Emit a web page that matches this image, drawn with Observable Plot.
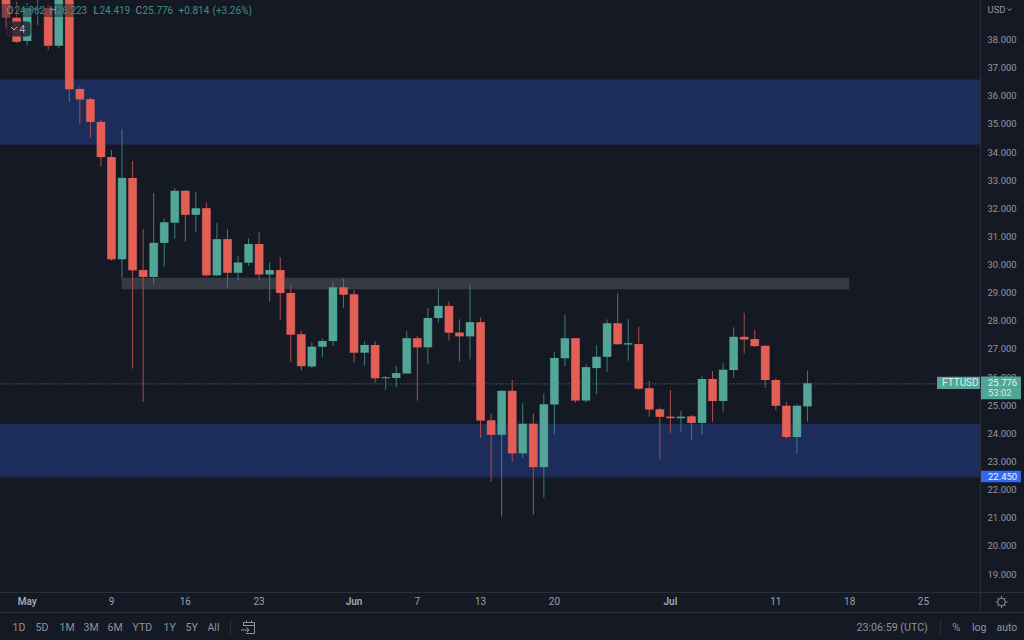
<!DOCTYPE html>
<html><head><meta charset="utf-8">
<style>html,body{margin:0;padding:0;background:#151924;overflow:hidden}svg{display:block}</style>
<script src="https://cdn.jsdelivr.net/npm/d3@7"></script>
<script src="https://cdn.jsdelivr.net/npm/@observablehq/plot@0.6"></script>
</head><body><div id="c"></div>
<script>
// Daily candles, first day 2022-04-29, last day 2022-07-14
const firstDay = "2022-04-29";
const opens = [39.6,38.77,37.95,39.09,39.12,37.78,39.8,36.24,35.88,35.07,33.82,30.19,33.08,29.8,29.56,30.77,31.49,32.62,31.77,32.0,29.62,30.9,29.71,30.07,30.73,29.65,29.8,28.99,27.52,26.38,27.08,27.28,29.19,28.94,26.87,27.14,25.96,25.97,26.13,27.38,27.06,28.1,28.53,27.58,27.45,27.95,24.46,23.95,25.51,23.29,24.34,22.8,25.03,26.67,27.38,25.17,26.32,26.72,27.91,27.16,27.17,25.6,24.85,24.59,24.54,24.6,24.37,25.93,25.15,26.25,27.43,27.35,27.11,25.895,24.98,23.87,24.962];
const closes = [38.79,37.92,39.12,39.12,37.78,39.8,36.23,35.87,35.07,33.82,30.19,33.08,29.8,29.56,30.77,31.5,32.62,31.77,32.0,29.62,30.9,29.71,30.07,30.73,29.65,29.8,28.99,27.51,26.39,27.08,27.28,29.19,28.93,26.87,27.14,25.96,25.99,26.14,27.38,27.06,28.1,28.53,27.58,27.45,27.95,24.46,23.95,25.51,23.29,24.34,22.8,25.03,26.68,27.38,25.17,26.35,26.72,27.91,27.17,27.2,25.59,24.85,24.59,24.54,24.59,24.37,25.93,25.15,26.26,27.43,27.34,27.1,25.895,24.98,23.87,24.98,25.776];
const highs = [39.7,39.34,39.3,39.6,39.25,39.9,39.9,36.32,35.94,35.14,34.07,34.82,33.68,31.26,32.55,31.63,32.72,32.65,32.59,32.21,31.47,31.25,30.3,30.93,31.15,30.08,30.26,29.3,27.65,27.24,27.38,29.41,29.49,29.09,27.26,27.28,26.04,26.39,27.64,27.46,28.45,29.13,28.68,28.05,29.27,28.12,24.71,25.54,25.895,25.07,24.71,25.42,26.9,28.2,27.39,26.45,27.13,28.05,28.98,28.06,27.79,25.86,24.92,25.54,24.79,24.65,26.03,26.21,26.49,27.77,28.28,27.67,27.14,25.95,25.12,25.03,26.223];
const lows = [38.41,37.87,37.78,38.52,37.63,37.7,35.77,35,34.51,33.48,30.13,29.53,26.3,25.12,29.31,29.92,30.91,30.81,31.15,29.57,29.59,29.18,29.43,29.95,29.43,28.68,28.04,26.52,26.23,26.33,26.72,27.11,28.47,26.51,26.4,25.78,25.54,25.65,26.13,25.16,26.48,27.93,27.29,26.55,26.63,23.84,22.28,21.04,22.99,23.13,21.1,21.71,23.96,26.39,25.09,25.09,25.4,26.19,27.14,26.58,25.55,24.59,23.08,24,24.06,23.74,23.95,24.41,24.78,25.97,26.83,27.07,25.62,24.83,23.81,23.28,24.419];
const blueZones = [[36.58,34.26],[24.33,22.46]];
const grayBand = [29.53,29.12];
const grayStart = "2022-05-10", grayEnd = "2022-07-18";
const priceLast = 25.776, pricePivot = 22.45;
const yTicks = d3.range(19,39);
const dayTicks = ["2022-05-09","2022-05-16","2022-05-23","2022-06-07","2022-06-13","2022-06-20","2022-07-11","2022-07-18","2022-07-25"];
const monthTicks = [["2022-05-01","May"],["2022-06-01","Jun"],["2022-07-01","Jul"]];
const ranges = [["1D",12],["5D",35],["1M",59],["3M",83],["6M",107],["YTD",132],["1Y",163],["5Y",185],["All",207]];
const legend = [["O",6,"#8a8e99"],["24.962",14,"#3f8f85"],["H",49,"#8a8e99"],["26.223",56,"#3f8f85"],["L",93,"#8a8e99"],["24.419",99,"#3f8f85"],["C",135,"#8a8e99"],["25.776",142,"#3f8f85"],["+0.814",178,"#3f8f85"],["(+3.26%)",212,"#3f8f85"]];

const dayMs = 864e5, t0 = +new Date(firstDay+"T00:00Z");
const candles = highs.map((h,i)=>({date:new Date(t0+i*dayMs), high:h, low:lows[i], open:opens[i], close:closes[i]}));
const UP="#53a598", DOWN="#e35f55", UPD="#3a7f78", DOWND="#a94e4c", EDGEU="#2f5f5c", EDGED="#8c4344";
const isUp = d => d.close>=d.open;
const FONT="Roboto";
const lab = (s,x,y,o={}) => Plot.text([s],{text:d=>d,frameAnchor:"top-left",dx:x,dy:y,textAnchor:"start",lineAnchor:"middle",fontSize:10,fill:"#8f939e",...o});
const D=d=>new Date(d+"T00:00Z");
const at=(s)=>new Date(s+"Z");
const frameEnd=at("2022-07-30T09:50"), farLeft=at("2022-04-01T00:00");
const chrome = () => {
  const g=d3.create("svg:g");
  g.append("path").attr("d","M0 592.5H1024M0 612.5H1024M980.5 0V612.5M230.5 619V635M940.5 619V635").attr("stroke","#2a2e39").attr("fill","none");
  g.append("path").attr("d","M243.5 622.5H254.5V633.5H246M243.5 622.5V626M243.5 625.5H254.5M246.5 620.5V623M251.5 620.5V623M241 630H249M246.5 627.5L249 630L246.5 632.5").attr("stroke","#8f939e").attr("fill","none");
  g.append("circle").attr("cx",1001.5).attr("cy",602).attr("r",3.8).attr("stroke","#8f939e").attr("fill","none");
  g.append("path").attr("d","M1001.5 596V598M1001.5 606V608M995.5 602H997.5M1005.5 602H1007.5M997.3 597.8L998.7 599.2M1004.3 604.8L1005.7 606.2M997.3 606.2L998.7 604.8M1004.3 599.2L1005.7 597.8").attr("stroke","#8f939e");
  g.append("rect").attr("x",7).attr("y",22).attr("width",23).attr("height",14).attr("rx",2).attr("fill","#1b1f2c").attr("fill-opacity",.8).attr("stroke","#2f3340");
  g.append("path").attr("d","M11 27L14 30L17 27").attr("stroke","#b2b5be").attr("fill","none");
  g.append("path").attr("d","M1007.5 8.5L1009.5 10.5L1011.5 8.5").attr("stroke","#9397a2").attr("fill","none");
  return g.node();
};
const chart = Plot.plot({
  width:1024,height:640,marginLeft:0,marginRight:44,marginTop:0,marginBottom:48,
  style:{background:"#151924",fontFamily:FONT,overflow:"hidden"},
  x:{type:"utc",domain:[at("2022-04-28T11:22"),frameEnd]},
  y:{type:"linear",domain:[18.36,39.404]},
  marks:[
    Plot.rect(blueZones,{x1:()=>farLeft,x2:()=>frameEnd,y1:d=>d[0],y2:d=>d[1],fill:"#1c2d5b",clip:"frame"}),
    Plot.rect([grayBand],{x1:()=>D(grayStart),x2:()=>D(grayEnd),y1:d=>d[0],y2:d=>d[1],fill:"#363a45"}),
    Plot.ruleY([priceLast],{x1:()=>farLeft,x2:()=>at("2022-07-26T08:00"),stroke:"#3d8f85",strokeDasharray:"1 2",clip:"frame"}),
    Plot.ruleY([pricePivot],{x1:()=>farLeft,x2:()=>frameEnd,stroke:"#2b3f78",strokeDasharray:"1 2",clip:"frame"}),
    Plot.ruleX(candles,{x:"date",y1:"low",y2:"high",stroke:d=>isUp(d)?UPD:DOWND,strokeWidth:1,clip:"frame"}),
    Plot.ruleX(candles,{x:"date",y1:"open",y2:"close",stroke:d=>isUp(d)?EDGEU:EDGED,strokeWidth:9,clip:"frame"}),
    Plot.ruleX(candles,{x:"date",y1:"open",y2:"close",stroke:d=>isUp(d)?UP:DOWN,strokeWidth:8,clip:"frame"}),
    Plot.axisX({ticks:dayTicks.map(D),tickSize:0,tickPadding:5,fontSize:10,color:"#9a9ea8",label:null,tickFormat:d=>d.getUTCDate()}),
    Plot.axisX({ticks:monthTicks.map(d=>D(d[0])),tickSize:0,tickPadding:5,fontSize:10,fontWeight:600,color:"#a4a8b2",label:null,tickFormat:d=>monthTicks.find(m=>+D(m[0])==+d)[1]}),
    Plot.axisY({anchor:"right",ticks:yTicks,tickSize:0,tickPadding:7,fontSize:9.5,color:"#9397a2",label:null,tickFormat:d=>d.toFixed(3),textAnchor:"start"}),
    Plot.rect([0],{x1:()=>farLeft,x2:()=>at("2022-05-22T12:00"),y1:()=>38.8,y2:()=>39.26,fill:"#151924",fillOpacity:.45,clip:"frame"}),
    Plot.ruleY([priceLast],{x1:()=>at("2022-07-26T08:00"),x2:()=>frameEnd,stroke:UP,strokeWidth:12.4,dy:-1}),
    Plot.ruleY([priceLast],{x1:()=>frameEnd,x2:()=>at("2022-08-03T07:00"),stroke:UP,strokeWidth:22.7,dy:4}),
    Plot.ruleY([pricePivot],{x1:()=>frameEnd,x2:()=>at("2022-08-03T07:00"),stroke:"#3468ee",strokeWidth:11.4,dy:-1}),
    chrome,
    ...legend.map(([s,x,c])=>lab(s,x,10.5,{fill:c,fontSize:10})),
    lab("4",19,29,{fill:"#b2b5be",fontSize:10}),
    lab("USD",987,9.5,{fontSize:9.5,fill:"#9397a2"}),
    ...ranges.map(([s,x])=>lab(s,x,627,{fontSize:10.5,fill:"#8f939e"})),
    lab("23:06:59 (UTC)",856,627,{fontSize:10.7}),
    lab("%",951.5,627,{fontSize:11.5}),
    lab("log",971.5,627,{fontSize:10.5}),
    lab("auto",996,627,{fontSize:10.5}),
    lab("FTTUSD",941.5,382.5,{fontSize:10,fill:"#dff0ec"}),
    lab("25.776",987.5,382.5,{fontSize:9.5,fill:"#e6f4f1"}),
    lab("53:02",987.5,392.5,{fontSize:9.5,fill:"#d3ebe6"}),
    lab("22.450",987.5,476,{fontSize:9.5,fill:"#f0f3ff"}),
  ]
});
document.getElementById("c").append(chart);
</script></body></html>
